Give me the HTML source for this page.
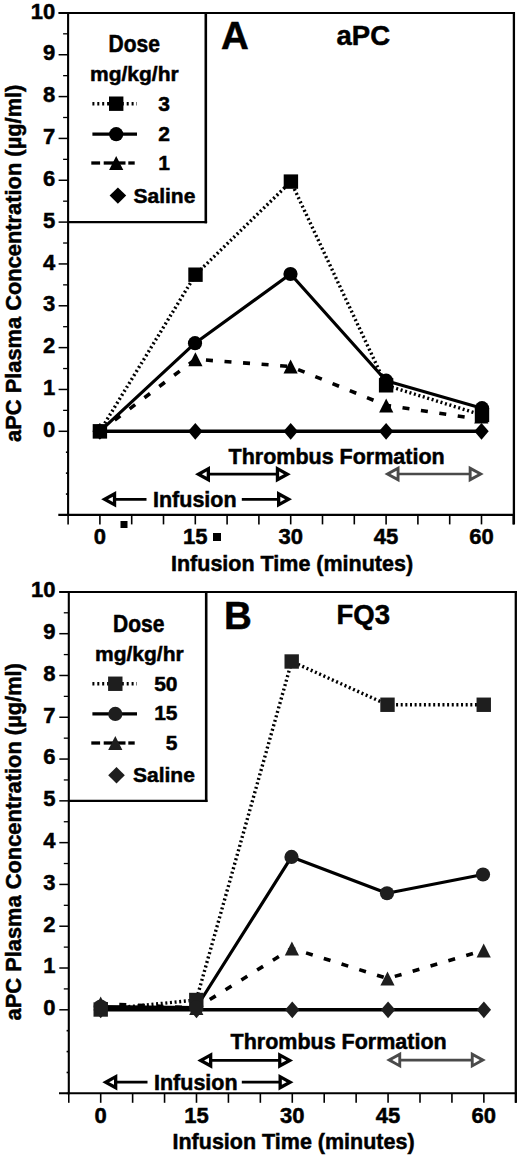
<!DOCTYPE html>
<html><head><meta charset="utf-8"><style>
html,body{margin:0;padding:0;background:#fff;overflow:hidden;width:520px;height:1157px;}
svg{display:block;}
text{font-family:"Liberation Sans", sans-serif;font-weight:bold;stroke:#000;stroke-width:0.5px;}
</style></head><body>
<svg width="520" height="1157" viewBox="0 0 520 1157">
<rect width="520" height="1157" fill="#fff"/>
<line x1="58.60" y1="12.90" x2="514.90" y2="12.90" stroke="#000" stroke-width="2" />
<line x1="68.10" y1="12.90" x2="68.10" y2="515.90" stroke="#000" stroke-width="2.1" />
<line x1="513.90" y1="11.90" x2="513.90" y2="524.40" stroke="#000" stroke-width="2.3" />
<line x1="58.30" y1="514.90" x2="514.90" y2="514.90" stroke="#000" stroke-width="2.1" />
<line x1="65.90" y1="514.98" x2="68.10" y2="514.98" stroke="#000" stroke-width="1.6" />
<line x1="65.90" y1="494.06" x2="68.10" y2="494.06" stroke="#000" stroke-width="1.6" />
<line x1="65.90" y1="473.14" x2="68.10" y2="473.14" stroke="#000" stroke-width="1.6" />
<line x1="65.90" y1="452.22" x2="68.10" y2="452.22" stroke="#000" stroke-width="1.6" />
<line x1="58.60" y1="431.30" x2="68.10" y2="431.30" stroke="#000" stroke-width="1.5" />
<line x1="63.10" y1="410.38" x2="68.10" y2="410.38" stroke="#000" stroke-width="1.3" />
<line x1="58.60" y1="389.46" x2="68.10" y2="389.46" stroke="#000" stroke-width="1.5" />
<line x1="63.10" y1="368.54" x2="68.10" y2="368.54" stroke="#000" stroke-width="1.3" />
<line x1="58.60" y1="347.62" x2="68.10" y2="347.62" stroke="#000" stroke-width="1.5" />
<line x1="63.10" y1="326.70" x2="68.10" y2="326.70" stroke="#000" stroke-width="1.3" />
<line x1="58.60" y1="305.78" x2="68.10" y2="305.78" stroke="#000" stroke-width="1.5" />
<line x1="63.10" y1="284.86" x2="68.10" y2="284.86" stroke="#000" stroke-width="1.3" />
<line x1="58.60" y1="263.94" x2="68.10" y2="263.94" stroke="#000" stroke-width="1.5" />
<line x1="63.10" y1="243.02" x2="68.10" y2="243.02" stroke="#000" stroke-width="1.3" />
<line x1="58.60" y1="222.10" x2="68.10" y2="222.10" stroke="#000" stroke-width="1.5" />
<line x1="63.10" y1="201.18" x2="68.10" y2="201.18" stroke="#000" stroke-width="1.3" />
<line x1="58.60" y1="180.26" x2="68.10" y2="180.26" stroke="#000" stroke-width="1.5" />
<line x1="63.10" y1="159.34" x2="68.10" y2="159.34" stroke="#000" stroke-width="1.3" />
<line x1="58.60" y1="138.42" x2="68.10" y2="138.42" stroke="#000" stroke-width="1.5" />
<line x1="63.10" y1="117.50" x2="68.10" y2="117.50" stroke="#000" stroke-width="1.3" />
<line x1="58.60" y1="96.58" x2="68.10" y2="96.58" stroke="#000" stroke-width="1.5" />
<line x1="63.10" y1="75.66" x2="68.10" y2="75.66" stroke="#000" stroke-width="1.3" />
<line x1="58.60" y1="54.74" x2="68.10" y2="54.74" stroke="#000" stroke-width="1.5" />
<line x1="63.10" y1="33.82" x2="68.10" y2="33.82" stroke="#000" stroke-width="1.3" />
<line x1="58.60" y1="12.90" x2="68.10" y2="12.90" stroke="#000" stroke-width="1.5" />
<text x="55.20" y="436.90" font-size="22" text-anchor="end" fill="#000" >0</text>
<text x="55.20" y="395.06" font-size="22" text-anchor="end" fill="#000" >1</text>
<text x="55.20" y="353.22" font-size="22" text-anchor="end" fill="#000" >2</text>
<text x="55.20" y="311.38" font-size="22" text-anchor="end" fill="#000" >3</text>
<text x="55.20" y="269.54" font-size="22" text-anchor="end" fill="#000" >4</text>
<text x="55.20" y="227.70" font-size="22" text-anchor="end" fill="#000" >5</text>
<text x="55.20" y="185.86" font-size="22" text-anchor="end" fill="#000" >6</text>
<text x="55.20" y="144.02" font-size="22" text-anchor="end" fill="#000" >7</text>
<text x="55.20" y="102.18" font-size="22" text-anchor="end" fill="#000" >8</text>
<text x="55.20" y="60.34" font-size="22" text-anchor="end" fill="#000" >9</text>
<text x="55.20" y="18.50" font-size="22" text-anchor="end" fill="#000" >10</text>
<line x1="68.10" y1="514.90" x2="68.10" y2="524.40" stroke="#000" stroke-width="1.6" />
<line x1="99.90" y1="514.90" x2="99.90" y2="524.40" stroke="#000" stroke-width="1.6" />
<line x1="131.70" y1="514.90" x2="131.70" y2="524.40" stroke="#000" stroke-width="1.6" />
<line x1="163.50" y1="514.90" x2="163.50" y2="524.40" stroke="#000" stroke-width="1.6" />
<line x1="195.30" y1="514.90" x2="195.30" y2="524.40" stroke="#000" stroke-width="1.6" />
<line x1="227.10" y1="514.90" x2="227.10" y2="524.40" stroke="#000" stroke-width="1.6" />
<line x1="258.90" y1="514.90" x2="258.90" y2="524.40" stroke="#000" stroke-width="1.6" />
<line x1="290.70" y1="514.90" x2="290.70" y2="524.40" stroke="#000" stroke-width="1.6" />
<line x1="322.50" y1="514.90" x2="322.50" y2="524.40" stroke="#000" stroke-width="1.6" />
<line x1="354.30" y1="514.90" x2="354.30" y2="524.40" stroke="#000" stroke-width="1.6" />
<line x1="386.10" y1="514.90" x2="386.10" y2="524.40" stroke="#000" stroke-width="1.6" />
<line x1="417.90" y1="514.90" x2="417.90" y2="524.40" stroke="#000" stroke-width="1.6" />
<line x1="449.70" y1="514.90" x2="449.70" y2="524.40" stroke="#000" stroke-width="1.6" />
<line x1="481.50" y1="514.90" x2="481.50" y2="524.40" stroke="#000" stroke-width="1.6" />
<line x1="513.30" y1="514.90" x2="513.30" y2="524.40" stroke="#000" stroke-width="1.6" />
<text x="99.90" y="544.30" font-size="22" text-anchor="middle" fill="#000" >0</text>
<text x="195.30" y="544.30" font-size="22" text-anchor="middle" fill="#000" >15</text>
<text x="290.70" y="544.30" font-size="22" text-anchor="middle" fill="#000" >30</text>
<text x="386.10" y="544.30" font-size="22" text-anchor="middle" fill="#000" >45</text>
<text x="481.50" y="544.30" font-size="22" text-anchor="middle" fill="#000" >60</text>
<text x="171.00" y="570.80" font-size="21.5" text-anchor="start" fill="#000" >Infusion Time (minutes)</text>
<text transform="translate(21.20,441.90) rotate(-90)" font-size="21.85">aPC Plasma Concentration (µg/ml)</text>
<text x="221.00" y="48.70" font-size="38.5" text-anchor="start" fill="#000" >A</text>
<text x="336.50" y="45.30" font-size="27.5" text-anchor="start" fill="#000" >aPC</text>
<text x="228.50" y="463.60" font-size="21.5" text-anchor="start" fill="#000" >Thrombus Formation</text>
<text x="153.00" y="507.00" font-size="21.5" text-anchor="start" fill="#000" >Infusion</text>
<line x1="205.00" y1="474.20" x2="280.80" y2="474.20" stroke="#000" stroke-width="2.7" />
<path d="M195.00,474.20 L210.00,465.95 L210.00,482.45 Z" fill="#000"/>
<path d="M201.85,474.20 L206.70,471.53 L206.70,476.87 Z" fill="#fff"/>
<path d="M290.80,474.20 L275.80,465.95 L275.80,482.45 Z" fill="#000"/>
<path d="M283.95,474.20 L279.10,471.53 L279.10,476.87 Z" fill="#fff"/>
<line x1="111.20" y1="499.30" x2="146.50" y2="499.30" stroke="#000" stroke-width="2.7" />
<line x1="241.80" y1="499.30" x2="282.00" y2="499.30" stroke="#000" stroke-width="2.7" />
<path d="M101.20,499.30 L116.20,491.05 L116.20,507.55 Z" fill="#000"/>
<path d="M108.05,499.30 L112.90,496.63 L112.90,501.97 Z" fill="#fff"/>
<path d="M292.00,499.30 L277.00,491.05 L277.00,507.55 Z" fill="#000"/>
<path d="M285.15,499.30 L280.30,496.63 L280.30,501.97 Z" fill="#fff"/>
<line x1="394.50" y1="474.00" x2="473.70" y2="474.00" stroke="#4a4a4a" stroke-width="2.6" />
<path d="M384.50,474.00 L399.50,465.75 L399.50,482.25 Z" fill="#4a4a4a"/>
<path d="M390.52,474.00 L396.60,470.65 L396.60,477.35 Z" fill="#fff"/>
<path d="M483.70,474.00 L468.70,465.75 L468.70,482.25 Z" fill="#4a4a4a"/>
<path d="M477.68,474.00 L471.60,470.65 L471.60,477.35 Z" fill="#fff"/>
<polyline points="99.90,431.30 195.30,431.30 290.70,431.30 386.10,431.30 481.50,431.30" fill="none" stroke="#000" stroke-width="3.4"  stroke-linejoin="round" />
<polyline points="99.90,431.30 195.40,359.25 290.60,366.50 386.20,405.40 482.00,419.50" fill="none" stroke="#000" stroke-width="3.6" stroke-dasharray="7 11.6" stroke-linejoin="round" stroke-linecap="butt"/>
<polyline points="99.90,431.30 195.50,274.70 290.90,181.60 386.10,385.30 482.00,415.00" fill="none" stroke="#000" stroke-width="3.4" stroke-dasharray="2 2.64" stroke-linejoin="round" />
<polyline points="99.90,431.30 195.00,343.20 290.50,274.00 386.10,380.70 482.00,408.20" fill="none" stroke="#000" stroke-width="3.2"  stroke-linejoin="round" />
<path d="M99.90,422.90 L107.10,431.30 L99.90,439.70 L92.70,431.30 Z" fill="#000"/>
<path d="M195.30,422.90 L202.50,431.30 L195.30,439.70 L188.10,431.30 Z" fill="#000"/>
<path d="M290.70,422.90 L297.90,431.30 L290.70,439.70 L283.50,431.30 Z" fill="#000"/>
<path d="M386.10,422.90 L393.30,431.30 L386.10,439.70 L378.90,431.30 Z" fill="#000"/>
<path d="M481.50,422.90 L488.70,431.30 L481.50,439.70 L474.30,431.30 Z" fill="#000"/>
<path d="M99.90,424.30 L107.00,438.30 L92.80,438.30 Z" fill="#000"/>
<path d="M195.40,352.25 L202.50,366.25 L188.30,366.25 Z" fill="#000"/>
<path d="M290.60,359.50 L297.70,373.50 L283.50,373.50 Z" fill="#000"/>
<path d="M386.20,398.40 L393.30,412.40 L379.10,412.40 Z" fill="#000"/>
<path d="M481.30,409.40 L488.40,423.40 L474.20,423.40 Z" fill="#000"/>
<rect x="92.70" y="424.10" width="14.4" height="14.4" fill="#000"/>
<rect x="188.30" y="267.50" width="14.4" height="14.4" fill="#000"/>
<rect x="283.70" y="174.40" width="14.4" height="14.4" fill="#000"/>
<rect x="378.90" y="378.10" width="14.4" height="14.4" fill="#000"/>
<rect x="474.80" y="407.80" width="14.4" height="14.4" fill="#000"/>
<circle cx="99.90" cy="431.30" r="7.1" fill="#000"/>
<circle cx="195.00" cy="343.20" r="7.1" fill="#000"/>
<circle cx="290.50" cy="274.00" r="7.1" fill="#000"/>
<circle cx="386.10" cy="380.70" r="7.1" fill="#000"/>
<circle cx="482.00" cy="408.20" r="7.1" fill="#000"/>
<line x1="68.10" y1="222.10" x2="207.10" y2="222.10" stroke="#000" stroke-width="2.4" />
<line x1="205.80" y1="12.90" x2="205.80" y2="223.30" stroke="#000" stroke-width="2.6" />
<text transform="translate(108.50,51.80) scale(1,1.1)" font-size="21" text-anchor="start" fill="#000" >Dose</text>
<text x="90.00" y="80.90" font-size="21" text-anchor="start" fill="#000" >mg/kg/hr</text>
<polyline points="92.40,103.70 137.00,103.70" fill="none" stroke="#000" stroke-width="3.4" stroke-dasharray="2 2.9" stroke-linejoin="round" />
<rect x="109.00" y="96.50" width="14.4" height="14.4" fill="#000"/>
<polyline points="92.40,134.20 137.00,134.20" fill="none" stroke="#000" stroke-width="3.2"  stroke-linejoin="round" />
<circle cx="116.20" cy="134.20" r="7.1" fill="#000"/>
<line x1="91.30" y1="163.00" x2="100.10" y2="163.00" stroke="#000" stroke-width="3.3" />
<line x1="103.70" y1="163.00" x2="125.50" y2="163.00" stroke="#000" stroke-width="3.3" />
<line x1="128.30" y1="163.00" x2="134.70" y2="163.00" stroke="#000" stroke-width="3.3" />
<path d="M116.20,156.00 L123.30,170.00 L109.10,170.00 Z" fill="#000"/>
<path d="M117.90,187.40 L126.20,195.60 L117.90,203.80 L109.60,195.60 Z" fill="#000"/>
<text x="164.00" y="111.00" font-size="21" text-anchor="middle" fill="#000" >3</text>
<text x="164.00" y="140.80" font-size="21" text-anchor="middle" fill="#000" >2</text>
<text x="164.00" y="170.20" font-size="21" text-anchor="middle" fill="#000" >1</text>
<text x="133.50" y="203.00" font-size="21" text-anchor="start" fill="#000" >Saline</text>
<rect x="120.5" y="521" width="7" height="7" fill="#000"/>
<rect x="213" y="533" width="8" height="8" fill="#000"/>
<line x1="59.30" y1="591.90" x2="516.80" y2="591.90" stroke="#000" stroke-width="2" />
<line x1="68.80" y1="591.90" x2="68.80" y2="1094.30" stroke="#000" stroke-width="2.1" />
<line x1="515.80" y1="590.90" x2="515.80" y2="1102.80" stroke="#000" stroke-width="2.3" />
<line x1="59.00" y1="1093.30" x2="516.80" y2="1093.30" stroke="#000" stroke-width="2.1" />
<line x1="66.60" y1="1093.38" x2="68.80" y2="1093.38" stroke="#000" stroke-width="1.6" />
<line x1="66.60" y1="1072.48" x2="68.80" y2="1072.48" stroke="#000" stroke-width="1.6" />
<line x1="66.60" y1="1051.59" x2="68.80" y2="1051.59" stroke="#000" stroke-width="1.6" />
<line x1="66.60" y1="1030.69" x2="68.80" y2="1030.69" stroke="#000" stroke-width="1.6" />
<line x1="59.30" y1="1009.80" x2="68.80" y2="1009.80" stroke="#000" stroke-width="1.5" />
<line x1="63.80" y1="988.90" x2="68.80" y2="988.90" stroke="#000" stroke-width="1.3" />
<line x1="59.30" y1="968.01" x2="68.80" y2="968.01" stroke="#000" stroke-width="1.5" />
<line x1="63.80" y1="947.12" x2="68.80" y2="947.12" stroke="#000" stroke-width="1.3" />
<line x1="59.30" y1="926.22" x2="68.80" y2="926.22" stroke="#000" stroke-width="1.5" />
<line x1="63.80" y1="905.32" x2="68.80" y2="905.32" stroke="#000" stroke-width="1.3" />
<line x1="59.30" y1="884.43" x2="68.80" y2="884.43" stroke="#000" stroke-width="1.5" />
<line x1="63.80" y1="863.53" x2="68.80" y2="863.53" stroke="#000" stroke-width="1.3" />
<line x1="59.30" y1="842.64" x2="68.80" y2="842.64" stroke="#000" stroke-width="1.5" />
<line x1="63.80" y1="821.74" x2="68.80" y2="821.74" stroke="#000" stroke-width="1.3" />
<line x1="59.30" y1="800.85" x2="68.80" y2="800.85" stroke="#000" stroke-width="1.5" />
<line x1="63.80" y1="779.95" x2="68.80" y2="779.95" stroke="#000" stroke-width="1.3" />
<line x1="59.30" y1="759.06" x2="68.80" y2="759.06" stroke="#000" stroke-width="1.5" />
<line x1="63.80" y1="738.16" x2="68.80" y2="738.16" stroke="#000" stroke-width="1.3" />
<line x1="59.30" y1="717.27" x2="68.80" y2="717.27" stroke="#000" stroke-width="1.5" />
<line x1="63.80" y1="696.38" x2="68.80" y2="696.38" stroke="#000" stroke-width="1.3" />
<line x1="59.30" y1="675.48" x2="68.80" y2="675.48" stroke="#000" stroke-width="1.5" />
<line x1="63.80" y1="654.59" x2="68.80" y2="654.59" stroke="#000" stroke-width="1.3" />
<line x1="59.30" y1="633.69" x2="68.80" y2="633.69" stroke="#000" stroke-width="1.5" />
<line x1="63.80" y1="612.79" x2="68.80" y2="612.79" stroke="#000" stroke-width="1.3" />
<line x1="59.30" y1="591.90" x2="68.80" y2="591.90" stroke="#000" stroke-width="1.5" />
<text x="55.50" y="1015.20" font-size="22" text-anchor="end" fill="#000" >0</text>
<text x="55.50" y="973.41" font-size="22" text-anchor="end" fill="#000" >1</text>
<text x="55.50" y="931.62" font-size="22" text-anchor="end" fill="#000" >2</text>
<text x="55.50" y="889.83" font-size="22" text-anchor="end" fill="#000" >3</text>
<text x="55.50" y="848.04" font-size="22" text-anchor="end" fill="#000" >4</text>
<text x="55.50" y="806.25" font-size="22" text-anchor="end" fill="#000" >5</text>
<text x="55.50" y="764.46" font-size="22" text-anchor="end" fill="#000" >6</text>
<text x="55.50" y="722.67" font-size="22" text-anchor="end" fill="#000" >7</text>
<text x="55.50" y="680.88" font-size="22" text-anchor="end" fill="#000" >8</text>
<text x="55.50" y="639.09" font-size="22" text-anchor="end" fill="#000" >9</text>
<text x="55.50" y="597.30" font-size="22" text-anchor="end" fill="#000" >10</text>
<line x1="68.77" y1="1093.30" x2="68.77" y2="1102.80" stroke="#000" stroke-width="1.6" />
<line x1="100.70" y1="1093.30" x2="100.70" y2="1102.80" stroke="#000" stroke-width="1.6" />
<line x1="132.63" y1="1093.30" x2="132.63" y2="1102.80" stroke="#000" stroke-width="1.6" />
<line x1="164.56" y1="1093.30" x2="164.56" y2="1102.80" stroke="#000" stroke-width="1.6" />
<line x1="196.49" y1="1093.30" x2="196.49" y2="1102.80" stroke="#000" stroke-width="1.6" />
<line x1="228.42" y1="1093.30" x2="228.42" y2="1102.80" stroke="#000" stroke-width="1.6" />
<line x1="260.35" y1="1093.30" x2="260.35" y2="1102.80" stroke="#000" stroke-width="1.6" />
<line x1="292.28" y1="1093.30" x2="292.28" y2="1102.80" stroke="#000" stroke-width="1.6" />
<line x1="324.21" y1="1093.30" x2="324.21" y2="1102.80" stroke="#000" stroke-width="1.6" />
<line x1="356.14" y1="1093.30" x2="356.14" y2="1102.80" stroke="#000" stroke-width="1.6" />
<line x1="388.07" y1="1093.30" x2="388.07" y2="1102.80" stroke="#000" stroke-width="1.6" />
<line x1="420.00" y1="1093.30" x2="420.00" y2="1102.80" stroke="#000" stroke-width="1.6" />
<line x1="451.93" y1="1093.30" x2="451.93" y2="1102.80" stroke="#000" stroke-width="1.6" />
<line x1="483.86" y1="1093.30" x2="483.86" y2="1102.80" stroke="#000" stroke-width="1.6" />
<line x1="515.79" y1="1093.30" x2="515.79" y2="1102.80" stroke="#000" stroke-width="1.6" />
<text x="100.70" y="1123.20" font-size="22" text-anchor="middle" fill="#000" >0</text>
<text x="196.49" y="1123.20" font-size="22" text-anchor="middle" fill="#000" >15</text>
<text x="292.28" y="1123.20" font-size="22" text-anchor="middle" fill="#000" >30</text>
<text x="388.07" y="1123.20" font-size="22" text-anchor="middle" fill="#000" >45</text>
<text x="483.86" y="1123.20" font-size="22" text-anchor="middle" fill="#000" >60</text>
<text x="172.50" y="1148.60" font-size="21.5" text-anchor="start" fill="#000" >Infusion Time (minutes)</text>
<text transform="translate(21.20,1020.40) rotate(-90)" font-size="21.85">aPC Plasma Concentration (µg/ml)</text>
<text x="224.00" y="628.60" font-size="38.5" text-anchor="start" fill="#000" >B</text>
<text x="336.50" y="623.60" font-size="27.5" text-anchor="start" fill="#000" >FQ3</text>
<text x="230.50" y="1049.00" font-size="21.5" text-anchor="start" fill="#000" >Thrombus Formation</text>
<text x="154.00" y="1089.80" font-size="21.5" text-anchor="start" fill="#000" >Infusion</text>
<line x1="207.30" y1="1060.40" x2="283.10" y2="1060.40" stroke="#000" stroke-width="2.7" />
<path d="M197.30,1060.40 L212.30,1052.15 L212.30,1068.65 Z" fill="#000"/>
<path d="M204.15,1060.40 L209.00,1057.73 L209.00,1063.07 Z" fill="#fff"/>
<path d="M293.10,1060.40 L278.10,1052.15 L278.10,1068.65 Z" fill="#000"/>
<path d="M286.25,1060.40 L281.40,1057.73 L281.40,1063.07 Z" fill="#fff"/>
<line x1="112.30" y1="1082.20" x2="147.50" y2="1082.20" stroke="#000" stroke-width="2.7" />
<line x1="241.80" y1="1082.20" x2="283.50" y2="1082.20" stroke="#000" stroke-width="2.7" />
<path d="M102.30,1082.20 L117.30,1073.95 L117.30,1090.45 Z" fill="#000"/>
<path d="M109.15,1082.20 L114.00,1079.53 L114.00,1084.87 Z" fill="#fff"/>
<path d="M293.50,1082.20 L278.50,1073.95 L278.50,1090.45 Z" fill="#000"/>
<path d="M286.65,1082.20 L281.80,1079.53 L281.80,1084.87 Z" fill="#fff"/>
<line x1="396.20" y1="1060.10" x2="475.80" y2="1060.10" stroke="#4a4a4a" stroke-width="2.6" />
<path d="M386.20,1060.10 L401.20,1051.85 L401.20,1068.35 Z" fill="#4a4a4a"/>
<path d="M392.22,1060.10 L398.30,1056.75 L398.30,1063.45 Z" fill="#fff"/>
<path d="M485.80,1060.10 L470.80,1051.85 L470.80,1068.35 Z" fill="#4a4a4a"/>
<path d="M479.78,1060.10 L473.70,1056.75 L473.70,1063.45 Z" fill="#fff"/>
<polyline points="100.70,1009.80 196.49,1009.80 292.28,1009.80 388.07,1009.80 483.86,1009.80" fill="none" stroke="#000" stroke-width="3.4"  stroke-linejoin="round" />
<polyline points="100.70,1003.60 196.30,1008.00 291.90,948.40 387.50,978.50 483.70,950.40" fill="none" stroke="#000" stroke-width="3.6" stroke-dasharray="7 11.6" stroke-linejoin="round" stroke-linecap="butt"/>
<polyline points="100.70,1009.50 196.30,1000.00 291.70,661.50 387.50,704.75 483.75,704.75" fill="none" stroke="#000" stroke-width="3.4" stroke-dasharray="2 2.64" stroke-linejoin="round" />
<polyline points="100.70,1006.50 196.30,1007.50 291.50,856.90 387.00,893.25 483.00,874.50" fill="none" stroke="#000" stroke-width="3.2"  stroke-linejoin="round" />
<path d="M100.70,1001.40 L107.90,1009.80 L100.70,1018.20 L93.50,1009.80 Z" fill="#1e1e1e"/>
<path d="M196.49,1001.40 L203.69,1009.80 L196.49,1018.20 L189.29,1009.80 Z" fill="#1e1e1e"/>
<path d="M292.28,1001.40 L299.48,1009.80 L292.28,1018.20 L285.08,1009.80 Z" fill="#1e1e1e"/>
<path d="M388.07,1001.40 L395.27,1009.80 L388.07,1018.20 L380.87,1009.80 Z" fill="#1e1e1e"/>
<path d="M483.86,1001.40 L491.06,1009.80 L483.86,1018.20 L476.66,1009.80 Z" fill="#1e1e1e"/>
<path d="M100.70,996.60 L107.80,1010.60 L93.60,1010.60 Z" fill="#1e1e1e"/>
<path d="M196.30,1001.00 L203.40,1015.00 L189.20,1015.00 Z" fill="#1e1e1e"/>
<path d="M291.90,941.40 L299.00,955.40 L284.80,955.40 Z" fill="#1e1e1e"/>
<path d="M387.50,971.50 L394.60,985.50 L380.40,985.50 Z" fill="#1e1e1e"/>
<path d="M483.70,943.40 L490.80,957.40 L476.60,957.40 Z" fill="#1e1e1e"/>
<rect x="93.50" y="1002.30" width="14.4" height="14.4" fill="#1e1e1e"/>
<rect x="189.10" y="992.80" width="14.4" height="14.4" fill="#1e1e1e"/>
<rect x="284.50" y="654.30" width="14.4" height="14.4" fill="#1e1e1e"/>
<rect x="380.30" y="697.55" width="14.4" height="14.4" fill="#1e1e1e"/>
<rect x="476.55" y="697.55" width="14.4" height="14.4" fill="#1e1e1e"/>
<circle cx="100.70" cy="1006.50" r="7.1" fill="#1e1e1e"/>
<circle cx="196.30" cy="1007.50" r="7.1" fill="#1e1e1e"/>
<circle cx="291.50" cy="856.90" r="7.1" fill="#1e1e1e"/>
<circle cx="387.00" cy="893.25" r="7.1" fill="#1e1e1e"/>
<circle cx="483.00" cy="874.50" r="7.1" fill="#1e1e1e"/>
<line x1="68.80" y1="800.85" x2="207.50" y2="800.85" stroke="#000" stroke-width="2.4" />
<line x1="206.20" y1="591.90" x2="206.20" y2="802.05" stroke="#000" stroke-width="2.6" />
<text transform="translate(113.00,632.20) scale(1,1.1)" font-size="21" text-anchor="start" fill="#000" >Dose</text>
<text x="95.00" y="661.20" font-size="21" text-anchor="start" fill="#000" >mg/kg/hr</text>
<polyline points="92.40,683.75 137.00,683.75" fill="none" stroke="#000" stroke-width="3.4" stroke-dasharray="2 2.9" stroke-linejoin="round" />
<rect x="108.10" y="676.55" width="14.4" height="14.4" fill="#1e1e1e"/>
<polyline points="92.40,713.90 137.00,713.90" fill="none" stroke="#000" stroke-width="3.2"  stroke-linejoin="round" />
<circle cx="115.30" cy="713.90" r="7.1" fill="#1e1e1e"/>
<line x1="91.30" y1="743.00" x2="100.10" y2="743.00" stroke="#000" stroke-width="3.3" />
<line x1="103.70" y1="743.00" x2="125.50" y2="743.00" stroke="#000" stroke-width="3.3" />
<line x1="128.30" y1="743.00" x2="134.70" y2="743.00" stroke="#000" stroke-width="3.3" />
<path d="M115.30,736.00 L122.40,750.00 L108.20,750.00 Z" fill="#1e1e1e"/>
<path d="M116.50,767.00 L124.80,775.20 L116.50,783.40 L108.20,775.20 Z" fill="#1e1e1e"/>
<text x="177.50" y="690.50" font-size="21" text-anchor="end" fill="#000" >50</text>
<text x="177.50" y="720.00" font-size="21" text-anchor="end" fill="#000" >15</text>
<text x="177.50" y="749.60" font-size="21" text-anchor="end" fill="#000" >5</text>
<text x="133.00" y="782.40" font-size="21" text-anchor="start" fill="#000" >Saline</text>
</svg>
</body></html>
